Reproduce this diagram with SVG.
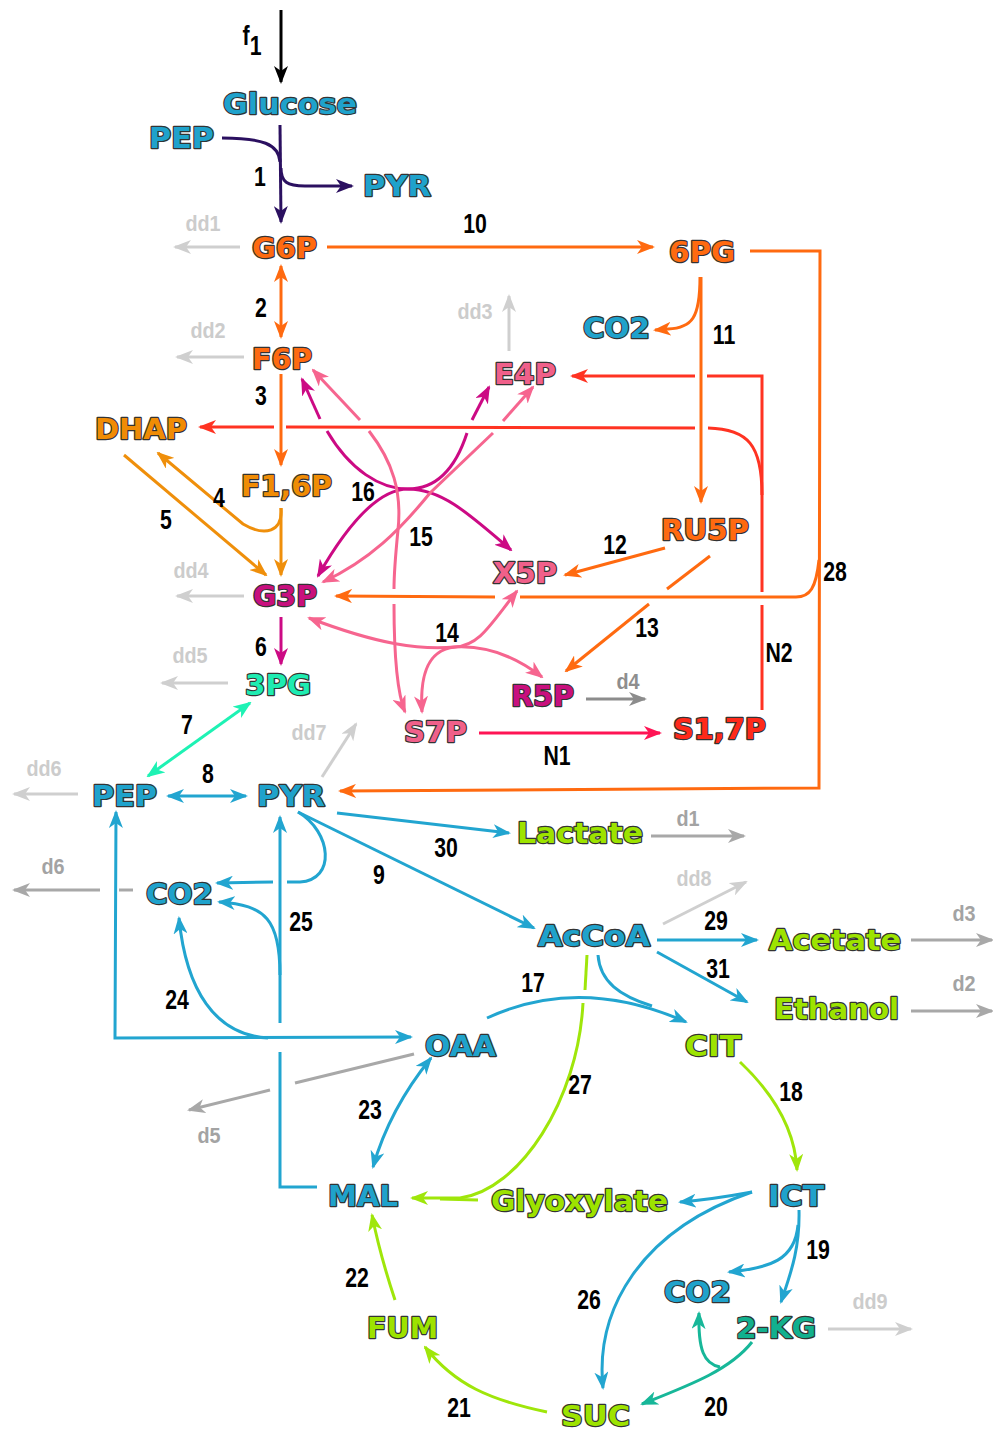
<svg xmlns="http://www.w3.org/2000/svg" width="993" height="1430" viewBox="0 0 993 1430">
<style>
.n{font-family:"DejaVu Sans","Liberation Sans",Arial,sans-serif;font-weight:bold;font-size:29px;stroke:#333;stroke-width:2.4px;paint-order:stroke;stroke-linejoin:round}
.bl{fill:#1fa2cb}.or{fill:#ff6a10}.am{fill:#f08c05}.pk{fill:#f0608a}.mg{fill:#c8107e}.tl{fill:#1eecb2}.rd{fill:#ff2a1a}.gr{fill:#9de300}.t2{fill:#12b08e}
.lb{font-family:"Liberation Sans",Arial,sans-serif;font-weight:bold;font-size:28px;fill:#000;text-anchor:middle;transform-box:fill-box;transform-origin:center;transform:scaleX(.76)}
.gl{font-family:"Liberation Sans",Arial,sans-serif;font-weight:bold;font-size:22px;text-anchor:middle;transform-box:fill-box;transform-origin:center;transform:scaleX(.9)}
.gl1{fill:#cccccc}.gl2{fill:#a3a3a3}.gl3{fill:#8e8e8e}
path{fill:none;stroke-width:3}
.k{stroke:#000}.dp{stroke:#2b1060}.o{stroke:#ff6a10}.r{stroke:#ff3322}.a{stroke:#ef8f0b}.m{stroke:#cc0a84}.p{stroke:#f6658f}.t{stroke:#1ef2b4}.b{stroke:#22a5d0}.l{stroke:#9fe60a}.tt{stroke:#17b799}.c{stroke:#ff1454}.g1{stroke:#cfcfcf}.g2{stroke:#a8a8a8}.g3{stroke:#8c8c8c}
</style>
<defs>
<marker id="ak" viewBox="0 0 18 14" refX="16" refY="7" markerWidth="18" markerHeight="14" markerUnits="userSpaceOnUse" orient="auto-start-reverse"><path d="M0,0 L18,7 L0,14 L5,7 z" style="fill:#000;stroke:none"/></marker>
<marker id="adp" viewBox="0 0 18 14" refX="16" refY="7" markerWidth="18" markerHeight="14" markerUnits="userSpaceOnUse" orient="auto-start-reverse"><path d="M0,0 L18,7 L0,14 L5,7 z" style="fill:#2b1060;stroke:none"/></marker>
<marker id="ao" viewBox="0 0 18 14" refX="16" refY="7" markerWidth="18" markerHeight="14" markerUnits="userSpaceOnUse" orient="auto-start-reverse"><path d="M0,0 L18,7 L0,14 L5,7 z" style="fill:#ff6a10;stroke:none"/></marker>
<marker id="ar" viewBox="0 0 18 14" refX="16" refY="7" markerWidth="18" markerHeight="14" markerUnits="userSpaceOnUse" orient="auto-start-reverse"><path d="M0,0 L18,7 L0,14 L5,7 z" style="fill:#ff3322;stroke:none"/></marker>
<marker id="aa" viewBox="0 0 18 14" refX="16" refY="7" markerWidth="18" markerHeight="14" markerUnits="userSpaceOnUse" orient="auto-start-reverse"><path d="M0,0 L18,7 L0,14 L5,7 z" style="fill:#ef8f0b;stroke:none"/></marker>
<marker id="am" viewBox="0 0 18 14" refX="16" refY="7" markerWidth="18" markerHeight="14" markerUnits="userSpaceOnUse" orient="auto-start-reverse"><path d="M0,0 L18,7 L0,14 L5,7 z" style="fill:#cc0a84;stroke:none"/></marker>
<marker id="ap" viewBox="0 0 18 14" refX="16" refY="7" markerWidth="18" markerHeight="14" markerUnits="userSpaceOnUse" orient="auto-start-reverse"><path d="M0,0 L18,7 L0,14 L5,7 z" style="fill:#f6658f;stroke:none"/></marker>
<marker id="at" viewBox="0 0 18 14" refX="16" refY="7" markerWidth="18" markerHeight="14" markerUnits="userSpaceOnUse" orient="auto-start-reverse"><path d="M0,0 L18,7 L0,14 L5,7 z" style="fill:#1ef2b4;stroke:none"/></marker>
<marker id="ab" viewBox="0 0 18 14" refX="16" refY="7" markerWidth="18" markerHeight="14" markerUnits="userSpaceOnUse" orient="auto-start-reverse"><path d="M0,0 L18,7 L0,14 L5,7 z" style="fill:#22a5d0;stroke:none"/></marker>
<marker id="al" viewBox="0 0 18 14" refX="16" refY="7" markerWidth="18" markerHeight="14" markerUnits="userSpaceOnUse" orient="auto-start-reverse"><path d="M0,0 L18,7 L0,14 L5,7 z" style="fill:#9fe60a;stroke:none"/></marker>
<marker id="att" viewBox="0 0 18 14" refX="16" refY="7" markerWidth="18" markerHeight="14" markerUnits="userSpaceOnUse" orient="auto-start-reverse"><path d="M0,0 L18,7 L0,14 L5,7 z" style="fill:#17b799;stroke:none"/></marker>
<marker id="ac" viewBox="0 0 18 14" refX="16" refY="7" markerWidth="18" markerHeight="14" markerUnits="userSpaceOnUse" orient="auto-start-reverse"><path d="M0,0 L18,7 L0,14 L5,7 z" style="fill:#ff1454;stroke:none"/></marker>
<marker id="ag1" viewBox="0 0 18 14" refX="16" refY="7" markerWidth="18" markerHeight="14" markerUnits="userSpaceOnUse" orient="auto-start-reverse"><path d="M0,0 L18,7 L0,14 L5,7 z" style="fill:#cfcfcf;stroke:none"/></marker>
<marker id="ag2" viewBox="0 0 18 14" refX="16" refY="7" markerWidth="18" markerHeight="14" markerUnits="userSpaceOnUse" orient="auto-start-reverse"><path d="M0,0 L18,7 L0,14 L5,7 z" style="fill:#a8a8a8;stroke:none"/></marker>
<marker id="ag3" viewBox="0 0 18 14" refX="16" refY="7" markerWidth="18" markerHeight="14" markerUnits="userSpaceOnUse" orient="auto-start-reverse"><path d="M0,0 L18,7 L0,14 L5,7 z" style="fill:#8c8c8c;stroke:none"/></marker>
</defs>
<rect width="993" height="1430" fill="#fff"/>
<g id="connectors">
<path class="k" d="M281,10 L281,82" marker-end="url(#ak)"/>
<path class="dp" d="M280,125 L281,222" marker-end="url(#adp)"/>
<path class="dp" d="M222,138 C262,138 279,144 280,162"/>
<path class="dp" d="M281,168 C281,182 287,186 305,186 L352,186" marker-end="url(#adp)"/>
<path class="g1" d="M240,247 L175,247" marker-end="url(#ag1)"/>
<path class="o" d="M327,247 L653,247" marker-end="url(#ao)"/>
<path class="o" d="M281,266 L281,337" marker-start="url(#ao)" marker-end="url(#ao)"/>
<path class="g1" d="M244,357 L177,357" marker-end="url(#ag1)"/>
<path class="o" d="M281,374 L281,465" marker-end="url(#ao)"/>
<path class="o" d="M700,277 C700,318 692,328 668,329 L655,330" marker-end="url(#ao)"/>
<path class="o" d="M701,277 L701,502" marker-end="url(#ao)"/>
<path class="o" d="M750,251 L820,251 L819,788 L340,791" marker-end="url(#ao)"/>
<path class="o" d="M819,560 C816,588 810,597 796,597 L520,597"/>
<path class="o" d="M495,597 L336,596" marker-end="url(#ao)"/>
<path class="o" d="M665,548 L565,575" marker-end="url(#ao)"/>
<path class="o" d="M710,556 L667,589"/>
<path class="o" d="M649,604 L566,671" marker-end="url(#ao)"/>
<path class="r" d="M762,710 L762,605"/>
<path class="r" d="M762,592 L762,376 L707,376"/>
<path class="r" d="M695,376 L572,376" marker-end="url(#ar)"/>
<path class="r" d="M762,495 C762,445 748,429 708,428"/>
<path class="r" d="M695,428 L286,427"/>
<path class="r" d="M274,427 L200,427" marker-end="url(#ar)"/>
<path class="a" d="M281,508 C283,532 265,537 243,524 L158,453" marker-end="url(#aa)"/>
<path class="a" d="M281,508 L281,575" marker-end="url(#aa)"/>
<path class="a" d="M124,455 L266,575" marker-end="url(#aa)"/>
<path class="g1" d="M244,596 L177,596" marker-end="url(#ag1)"/>
<path class="g1" d="M509,351 L509,296" marker-end="url(#ag1)"/>
<path class="m" d="M320,419 L302,379" marker-end="url(#am)"/>
<path class="m" d="M327,431 C350,470 380,489 408,489 C435,489 455,470 467,433"/>
<path class="m" d="M472,420 L489,387" marker-end="url(#am)"/>
<path class="m" d="M511,550 C465,510 440,489 408,489 C380,489 350,520 318,576" marker-start="url(#am)" marker-end="url(#am)"/>
<path class="p" d="M360,420 L313,370" marker-end="url(#ap)"/>
<path class="p" d="M369,431 C393,462 402,492 398,530 C395,560 394,575 394,589"/>
<path class="p" d="M394,604 C394,650 396,690 405,712" marker-end="url(#ap)"/>
<path class="p" d="M323,582 C370,560 400,530 430,493 L493,433" marker-start="url(#ap)"/>
<path class="p" d="M503,421 L533,387" marker-end="url(#ap)"/>
<path class="p" d="M309,618 C380,645 420,650 455,647 C490,645 520,660 542,677" marker-start="url(#ap)" marker-end="url(#ap)"/>
<path class="p" d="M517,591 C490,625 480,645 455,647 C425,650 420,680 422,712" marker-start="url(#ap)" marker-end="url(#ap)"/>
<path class="m" d="M281,617 L281,664" marker-end="url(#am)"/>
<path class="g1" d="M228,683 L162,683" marker-end="url(#ag1)"/>
<path class="g3" d="M586,699 L645,699" marker-end="url(#ag3)"/>
<path class="c" d="M479,733 L660,733" marker-end="url(#ac)"/>
<path class="t" d="M250,703 L148,776" marker-start="url(#at)" marker-end="url(#at)"/>
<path class="g1" d="M78,794 L14,794" marker-end="url(#ag1)"/>
<path class="b" d="M168,796 L246,796" marker-start="url(#ab)" marker-end="url(#ab)"/>
<path class="g1" d="M322,777 L356,724" marker-end="url(#ag1)"/>
<path class="b" d="M337,813 L509,833" marker-end="url(#ab)"/>
<path class="b" d="M298,812 L534,928" marker-end="url(#ab)"/>
<path class="b" d="M298,812 C332,832 336,880 300,882 L287,882"/>
<path class="b" d="M273,882 L217,883" marker-end="url(#ab)"/>
<path class="b" d="M280,1023 L280,817" marker-end="url(#ab)"/>
<path class="b" d="M280,975 C280,920 266,905 219,902" marker-end="url(#ab)"/>
<path class="b" d="M268,1038 C215,1035 186,990 179,918" marker-end="url(#ab)"/>
<path class="b" d="M116,812 L115,1038 L411,1037" marker-start="url(#ab)" marker-end="url(#ab)"/>
<path class="b" d="M280,1052 L280,1187 L317,1187"/>
<path class="g2" d="M414,1054 L295,1083"/>
<path class="g2" d="M270,1090 L189,1110" marker-end="url(#ag2)"/>
<path class="g2" d="M133,890 L119,890"/>
<path class="g2" d="M100,890 L14,890" marker-end="url(#ag2)"/>
<path class="b" d="M431,1058 C405,1090 385,1125 373,1167" marker-start="url(#ab)" marker-end="url(#ab)"/>
<path class="b" d="M487,1018 Q580,975 686,1022" marker-end="url(#ab)"/>
<path class="b" d="M598,955 C600,982 620,996 652,1006"/>
<path class="l" d="M587,955 L585,990"/>
<path class="l" d="M583,1003 C578,1100 520,1190 460,1198 L412,1198" marker-end="url(#al)"/>
<path class="l" d="M478,1200 L440,1199"/>
<path class="b" d="M657,940 L757,940" marker-end="url(#ab)"/>
<path class="g1" d="M663,924 L746,882" marker-end="url(#ag1)"/>
<path class="b" d="M657,952 L747,1002" marker-end="url(#ab)"/>
<path class="g2" d="M651,836 L744,836" marker-end="url(#ag2)"/>
<path class="g2" d="M911,940 L992,940" marker-end="url(#ag2)"/>
<path class="g2" d="M911,1011 L992,1011" marker-end="url(#ag2)"/>
<path class="l" d="M740,1062 C775,1095 795,1130 797,1170" marker-end="url(#al)"/>
<path class="b" d="M752,1192 C725,1197 705,1200 680,1202" marker-end="url(#ab)"/>
<path class="b" d="M752,1192 C640,1230 595,1310 603,1388" marker-end="url(#ab)"/>
<path class="b" d="M799,1210 C800,1250 790,1275 781,1302" marker-end="url(#ab)"/>
<path class="b" d="M798,1225 C795,1260 770,1268 729,1272" marker-end="url(#ab)"/>
<path class="g1" d="M828,1329 L911,1329" marker-end="url(#ag1)"/>
<path class="tt" d="M752,1342 C730,1370 690,1385 642,1404" marker-end="url(#att)"/>
<path class="tt" d="M720,1367 C704,1364 698,1350 699,1313" marker-end="url(#att)"/>
<path class="l" d="M547,1412 C490,1400 455,1385 425,1347" marker-end="url(#al)"/>
<path class="l" d="M395,1300 C385,1270 378,1245 372,1215" marker-end="url(#al)"/>
</g>
<g id="labels">
<text class="lb" x="252" y="45">f<tspan dy="10">1</tspan></text>
<text class="lb" x="260" y="186">1</text>
<text class="lb" x="475" y="233">10</text>
<text class="lb" x="261" y="317">2</text>
<text class="lb" x="724" y="344">11</text>
<text class="lb" x="261" y="405">3</text>
<text class="lb" x="219" y="507">4</text>
<text class="lb" x="166" y="529">5</text>
<text class="lb" x="363" y="501">16</text>
<text class="lb" x="421" y="546">15</text>
<text class="lb" x="615" y="554">12</text>
<text class="lb" x="835" y="581">28</text>
<text class="lb" x="647" y="637">13</text>
<text class="lb" x="261" y="656">6</text>
<text class="lb" x="447" y="642">14</text>
<text class="lb" x="779" y="662">N2</text>
<text class="lb" x="187" y="734">7</text>
<text class="lb" x="208" y="783">8</text>
<text class="lb" x="557" y="765">N1</text>
<text class="lb" x="446" y="857">30</text>
<text class="lb" x="379" y="884">9</text>
<text class="lb" x="301" y="931">25</text>
<text class="lb" x="177" y="1009">24</text>
<text class="lb" x="716" y="930">29</text>
<text class="lb" x="718" y="978">31</text>
<text class="lb" x="533" y="992">17</text>
<text class="lb" x="580" y="1094">27</text>
<text class="lb" x="791" y="1101">18</text>
<text class="lb" x="370" y="1119">23</text>
<text class="lb" x="818" y="1259">19</text>
<text class="lb" x="357" y="1287">22</text>
<text class="lb" x="589" y="1309">26</text>
<text class="lb" x="459" y="1417">21</text>
<text class="lb" x="716" y="1416">20</text>
<text class="gl gl1" x="203" y="231">dd1</text>
<text class="gl gl1" x="208" y="338">dd2</text>
<text class="gl gl1" x="475" y="319">dd3</text>
<text class="gl gl1" x="191" y="578">dd4</text>
<text class="gl gl1" x="190" y="663">dd5</text>
<text class="gl gl1" x="44" y="776">dd6</text>
<text class="gl gl2" x="53" y="874">d6</text>
<text class="gl gl1" x="309" y="740">dd7</text>
<text class="gl gl2" x="688" y="826">d1</text>
<text class="gl gl1" x="694" y="886">dd8</text>
<text class="gl gl2" x="964" y="921">d3</text>
<text class="gl gl2" x="964" y="991">d2</text>
<text class="gl gl2" x="209" y="1143">d5</text>
<text class="gl gl3" x="628" y="689">d4</text>
<text class="gl gl1" x="870" y="1309">dd9</text>
</g>
<g id="n-glucose"><text class="n bl" x="223" y="113.5" textLength="134" lengthAdjust="spacingAndGlyphs">Glucose</text></g>
<g id="n-pep1"><text class="n bl" x="149" y="147.5" textLength="65" lengthAdjust="spacingAndGlyphs">PEP</text></g>
<g id="n-pyr1"><text class="n bl" x="363" y="195.5" textLength="68" lengthAdjust="spacingAndGlyphs">PYR</text></g>
<g id="n-g6p"><text class="n or" x="252" y="257.5" textLength="65" lengthAdjust="spacingAndGlyphs">G6P</text></g>
<g id="n-6pg"><text class="n or" x="669" y="261.5" textLength="66" lengthAdjust="spacingAndGlyphs">6PG</text></g>
<g id="n-co2a"><text class="n bl" x="583" y="337.5" textLength="67" lengthAdjust="spacingAndGlyphs">CO2</text></g>
<g id="n-f6p"><text class="n or" x="252" y="368.5" textLength="60" lengthAdjust="spacingAndGlyphs">F6P</text></g>
<g id="n-e4p"><text class="n pk" x="494" y="383.5" textLength="62" lengthAdjust="spacingAndGlyphs">E4P</text></g>
<g id="n-dhap"><text class="n am" x="95" y="438.5" textLength="92" lengthAdjust="spacingAndGlyphs">DHAP</text></g>
<g id="n-f16p"><text class="n am" x="241" y="495.5" textLength="91" lengthAdjust="spacingAndGlyphs">F1,6P</text></g>
<g id="n-ru5p"><text class="n or" x="661" y="539.5" textLength="88" lengthAdjust="spacingAndGlyphs">RU5P</text></g>
<g id="n-x5p"><text class="n pk" x="493" y="582.5" textLength="64" lengthAdjust="spacingAndGlyphs">X5P</text></g>
<g id="n-g3p"><text class="n mg" x="253" y="605.5" textLength="64" lengthAdjust="spacingAndGlyphs">G3P</text></g>
<g id="n-3pg"><text class="n tl" x="245" y="694.5" textLength="66" lengthAdjust="spacingAndGlyphs">3PG</text></g>
<g id="n-r5p"><text class="n mg" x="511" y="705.5" textLength="63" lengthAdjust="spacingAndGlyphs">R5P</text></g>
<g id="n-s7p"><text class="n pk" x="404" y="741.5" textLength="63" lengthAdjust="spacingAndGlyphs">S7P</text></g>
<g id="n-s17p"><text class="n rd" x="673" y="738.5" textLength="93" lengthAdjust="spacingAndGlyphs">S1,7P</text></g>
<g id="n-pep2"><text class="n bl" x="92" y="805.5" textLength="65" lengthAdjust="spacingAndGlyphs">PEP</text></g>
<g id="n-pyr2"><text class="n bl" x="257" y="805.5" textLength="68" lengthAdjust="spacingAndGlyphs">PYR</text></g>
<g id="n-lactate"><text class="n gr" x="517" y="842.5" textLength="126" lengthAdjust="spacingAndGlyphs">Lactate</text></g>
<g id="n-co2b"><text class="n bl" x="146" y="903.5" textLength="67" lengthAdjust="spacingAndGlyphs">CO2</text></g>
<g id="n-accoa"><text class="n bl" x="538" y="945.5" textLength="112" lengthAdjust="spacingAndGlyphs">AcCoA</text></g>
<g id="n-acetate"><text class="n gr" x="769" y="949.5" textLength="132" lengthAdjust="spacingAndGlyphs">Acetate</text></g>
<g id="n-ethanol"><text class="n gr" x="774" y="1018.5" textLength="125" lengthAdjust="spacingAndGlyphs">Ethanol</text></g>
<g id="n-oaa"><text class="n bl" x="425" y="1055.5" textLength="71" lengthAdjust="spacingAndGlyphs">OAA</text></g>
<g id="n-cit"><text class="n gr" x="685" y="1055.5" textLength="56" lengthAdjust="spacingAndGlyphs">CIT</text></g>
<g id="n-mal"><text class="n bl" x="328" y="1205.5" textLength="70" lengthAdjust="spacingAndGlyphs">MAL</text></g>
<g id="n-glyoxylate"><text class="n gr" x="491" y="1210.5" textLength="177" lengthAdjust="spacingAndGlyphs">Glyoxylate</text></g>
<g id="n-ict"><text class="n bl" x="768" y="1205.5" textLength="56" lengthAdjust="spacingAndGlyphs">ICT</text></g>
<g id="n-co2c"><text class="n bl" x="664" y="1301.5" textLength="67" lengthAdjust="spacingAndGlyphs">CO2</text></g>
<g id="n-2kg"><text class="n t2" x="736" y="1337.5" textLength="80" lengthAdjust="spacingAndGlyphs">2-KG</text></g>
<g id="n-fum"><text class="n gr" x="367" y="1337.5" textLength="71" lengthAdjust="spacingAndGlyphs">FUM</text></g>
<g id="n-suc"><text class="n gr" x="561" y="1425.5" textLength="69" lengthAdjust="spacingAndGlyphs">SUC</text></g>
</svg>
